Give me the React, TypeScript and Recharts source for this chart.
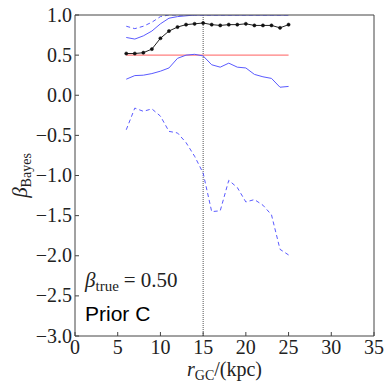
import React from 'react';
import { LineChart, Line, XAxis, YAxis, ReferenceLine } from 'recharts';

const radius = [6, 7, 8, 9, 10, 11, 12, 13, 14, 15, 16, 17, 18, 19, 20, 21, 22, 23, 24, 25];
const median = [0.52, 0.52, 0.53, 0.575, 0.71, 0.80, 0.85, 0.88, 0.89, 0.90, 0.88, 0.87, 0.88, 0.88, 0.89, 0.87, 0.87, 0.87, 0.84, 0.88];
const upper1 = [0.72, 0.70, 0.74, 0.80, 0.89, 0.96, 0.98, 0.99, 1.0, 1.0, 1.0, 1.0, 1.0, 1.0, 1.0, 1.0, 1.0, 1.0, 1.0, 1.0];
const upper2 = [0.86, 0.83, 0.86, 0.91, 0.98, 1.0, 1.0, 1.0, 1.0, 1.0, 1.0, 1.0, 1.0, 1.0, 1.0, 1.0, 1.0, 1.0, 1.0, 1.0];
const lower1 = [0.20, 0.245, 0.25, 0.27, 0.30, 0.34, 0.46, 0.50, 0.51, 0.49, 0.38, 0.35, 0.40, 0.35, 0.34, 0.26, 0.23, 0.21, 0.10, 0.11];
const lower2 = [-0.43, -0.16, -0.20, -0.17, -0.26, -0.45, -0.47, -0.59, -0.76, -0.97, -1.45, -1.44, -1.06, -1.15, -1.33, -1.30, -1.37, -1.49, -1.92, -1.99];
const betaTrue = 0.5;

const xTicks = [0, 5, 10, 15, 20, 25, 30, 35];
const yTicks = [-3.0, -2.5, -2.0, -1.5, -1.0, -0.5, 0.0, 0.5, 1.0];

const data = radius.map((r, i) => ({
  r,
  median: median[i],
  upper1: upper1[i],
  upper2: upper2[i],
  lower1: lower1[i],
  lower2: lower2[i],
  truth: betaTrue,
}));

const SERIF = '"Liberation Serif", "DejaVu Serif", serif';
const SANS = '"Liberation Sans", Arial, sans-serif';
const AXIS = '#444';
const BLUE = '#5a5aff';

const fmtY = (v: number) => (v < 0 ? '\u2212' + Math.abs(v).toFixed(1) : v.toFixed(1));

const BottomTick = (props: any) => {
  const { x, y, payload } = props;
  return (
    <g>
      <line x1={x} x2={x} y1={y} y2={y - 4} stroke={AXIS} strokeWidth={1} />
      <text x={x} y={y + 18} textAnchor="middle" fontFamily={SERIF} fontSize={20} fill="#222">
        {String(payload.value)}
      </text>
    </g>
  );
};

const LeftTick = (props: any) => {
  const { x, y, payload } = props;
  return (
    <g>
      <line x1={x} x2={x + 4} y1={y} y2={y} stroke={AXIS} strokeWidth={1} />
      <text x={x - 3} y={y + 6.5} textAnchor="end" fontFamily={SERIF} fontSize={20} fill="#222">
        {fmtY(payload.value)}
      </text>
    </g>
  );
};

const XLabel = (props: any) => {
  const vb = props.viewBox;
  const cx = vb.x + vb.width / 2;
  return (
    <text x={cx} y={376} textAnchor="middle" fontFamily={SERIF} fontSize={20} fill="#222">
      <tspan fontStyle="italic">r</tspan>
      <tspan fontSize={14} dy={4}>GC</tspan>
      <tspan dy={-4}>/(kpc)</tspan>
    </text>
  );
};

const YLabel = (props: any) => {
  const vb = props.viewBox;
  const cy = vb.y + vb.height / 2;
  return (
    <text x={27} y={cy} transform={`rotate(-90, 27, ${cy})`} textAnchor="middle" fontFamily={SERIF} fontSize={21} fill="#222">
      <tspan fontStyle="italic">β</tspan>
      <tspan fontSize={14} dy={4}>Bayes</tspan>
    </text>
  );
};

export default function App() {
  return (
    <div style={{ position: 'absolute', left: 0, top: 0, width: 390, height: 390, background: '#fff' }}>
      <LineChart width={390} height={390} data={data} margin={{ top: 15, right: 16, left: 0, bottom: 0 }}>
        <XAxis
          dataKey="r"
          type="number"
          domain={[0, 35]}
          ticks={xTicks}
          interval={0}
          height={54}
          tickLine={false}
          tickSize={0}
          tickMargin={0}
          tick={<BottomTick />}
          axisLine={{ stroke: AXIS, strokeWidth: 1 }}
          label={<XLabel />}
        />
        <XAxis
          xAxisId="top"
          dataKey="r"
          type="number"
          orientation="top"
          mirror
          domain={[0, 35]}
          ticks={xTicks}
          interval={0}
          height={1}
          tick={false}
          tickSize={4}
          tickLine={{ stroke: AXIS }}
          axisLine={{ stroke: AXIS, strokeWidth: 1 }}
        />
        <YAxis
          type="number"
          domain={[-3, 1]}
          ticks={yTicks}
          interval={0}
          width={75}
          tickLine={false}
          tickSize={0}
          tickMargin={0}
          tick={<LeftTick />}
          axisLine={{ stroke: AXIS, strokeWidth: 1 }}
          allowDataOverflow
          label={<YLabel />}
        />
        <YAxis
          yAxisId="right"
          orientation="right"
          mirror
          type="number"
          domain={[-3, 1]}
          ticks={yTicks}
          interval={0}
          width={1}
          tick={false}
          tickSize={4}
          tickLine={{ stroke: AXIS }}
          axisLine={{ stroke: AXIS, strokeWidth: 1 }}
        />
        <ReferenceLine x={15} stroke="#555" strokeWidth={1} strokeDasharray="1 1" />
        <Line dataKey="truth" stroke="#ff7f7f" strokeWidth={1.2} dot={false} isAnimationActive={false} />
        <Line dataKey="upper2" stroke={BLUE} strokeWidth={1} strokeDasharray="4 3" dot={false} isAnimationActive={false} />
        <Line dataKey="lower2" stroke={BLUE} strokeWidth={1} strokeDasharray="4 3" dot={false} isAnimationActive={false} />
        <Line dataKey="upper1" stroke={BLUE} strokeWidth={1} dot={false} isAnimationActive={false} />
        <Line dataKey="lower1" stroke={BLUE} strokeWidth={1} dot={false} isAnimationActive={false} />
        <Line
          dataKey="median"
          stroke="#222"
          strokeWidth={1}
          dot={{ r: 1.6, fill: '#111', stroke: '#111', strokeWidth: 0.5 }}
          isAnimationActive={false}
        />
        <text x={85} y={287} fontFamily={SERIF} fontSize={21} fill="#222">
          <tspan fontStyle="italic">β</tspan>
          <tspan fontSize={15} dy={4}>true</tspan>
          <tspan dy={-4} dx={5}>=</tspan>
          <tspan dx={5}>0.50</tspan>
        </text>
        <text x={85} y={321} fontFamily={SANS} fontSize={21} fill="#000">
          Prior C
        </text>
      </LineChart>
    </div>
  );
}
